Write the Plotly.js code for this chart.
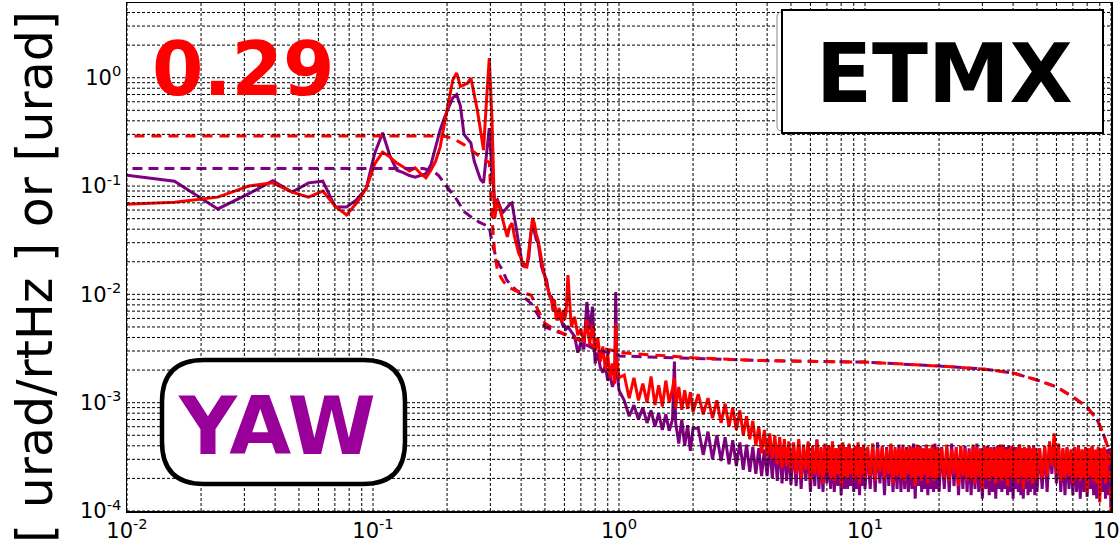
<!DOCTYPE html>
<html><head><meta charset="utf-8">
<script src="https://cdn.plot.ly/plotly-3.0.1.min.js"></script>
<style>body{margin:0;background:#fff}#chart{width:1120px;height:548px}</style>
</head><body><div id="chart"></div>
<script>
// ---- low-frequency bins (k/128 Hz) ----
const freqLow = [0.0078,0.0156,0.0234,0.0313,0.0391,0.0469,0.0547,0.0625,0.0703,0.0781,
0.0859,0.0938,0.1016,0.1094,0.1172,0.125,0.1328,0.1406,0.1484,0.1563,
0.1641,0.1719,0.1797,0.1875,0.1953,0.2031,0.2109,0.2188,0.2266,0.2344,
0.2422,0.25,0.2578,0.2656,0.2734,0.2813,0.2891,0.2969,0.3047,0.3125,
0.3203,0.3281,0.3359,0.3438,0.3516,0.3594,0.3672,0.375,0.3828,0.3906,
0.3984,0.4063,0.4141,0.4219,0.4297,0.4375,0.4453,0.4531,0.4609,0.4688,
0.4766,0.4844,0.4922,0.5,0.5078,0.5156,0.5234,0.5313,0.5391,0.5469,
0.5547,0.5625,0.5703,0.5781,0.5859,0.5938,0.6016,0.6094];
const purpleLow = [0.135,0.111,0.0615,0.085,0.112,0.088,0.107,0.111,0.064,0.064,
0.075,0.095,0.2,0.31,0.19,0.14,0.133,0.125,0.121,0.125,
0.13,0.157,0.23,0.33,0.43,0.54,0.65,0.7,0.55,0.3,
0.27,0.25,0.17,0.14,0.115,0.107,0.2,0.343,0.133,0.07,
0.0745,0.065,0.0565,0.06,0.064,0.068,0.07,0.05,0.04,0.03,
0.024,0.018,0.019,0.0185,0.022,0.035,0.045,0.038,0.032,0.03,
0.022,0.018,0.016,0.0145,0.0136,0.011,0.0098,0.0095,0.0085,0.0078,
0.007,0.0062,0.0058,0.0062,0.0055,0.005,0.0052,0.0048];
const redLow = [0.066,0.071,0.079,0.1,0.107,0.088,0.079,0.09,0.065,0.054,
0.07,0.095,0.16,0.206,0.185,0.163,0.15,0.138,0.147,0.13,
0.119,0.14,0.17,0.23,0.38,0.6,0.95,1.107,0.83,0.86,
0.89,0.995,0.72,0.5,0.33,0.215,0.6,1.52,0.4,0.05,
0.0745,0.06,0.0487,0.04,0.034,0.042,0.0456,0.035,0.028,0.0241,
0.022,0.019,0.018,0.0179,0.025,0.038,0.0507,0.045,0.036,0.0318,
0.025,0.02,0.017,0.0145,0.012,0.011,0.0095,0.0089,0.007,0.0089,
0.006,0.0058,0.0075,0.0065,0.0055,0.0072,0.0058,0.0068];

// ---- 0.6 - 5 Hz ----
const freqMid = [0.62,0.64,0.66,0.68,0.70,0.72,0.74,0.76,0.78,0.80,0.82,0.84,0.86,0.88,0.90,0.92,0.94,0.96,0.97,0.98,1.00,
1.05,1.10,1.15,1.20,1.25,1.30,1.35,1.40,1.45,1.50,1.55,1.60,1.65,1.68,1.70,1.75,1.80,1.85,1.90,1.95,2.00,
2.1,2.2,2.3,2.4,2.5,2.6,2.7,2.8,2.9,3.0,3.1,3.2,3.3,3.4,3.5,3.6,3.7,3.8,3.9,4.0,4.1,4.2,4.3,4.4,4.5,4.6,4.7,4.8,4.9,5.0];
const redMid = [0.0151,0.005,0.0062,0.0042,0.0048,0.0036,0.0058,0.0035,0.0052,0.0030,0.0040,0.0024,0.0033,0.0020,0.0028,0.0017,0.0023,0.0015,0.0054,0.0025,0.0017,
1.8e-3,1.1e-3,1.7e-3,1.05e-3,1.5e-3,1.0e-3,1.75e-3,9.5e-4,1.45e-3,9.2e-4,1.6e-3,1.0e-3,1.35e-3,1.7e-3,9.0e-4,1.4e-3,8.6e-4,1.3e-3,8.8e-4,1.25e-3,8.2e-4,
1.2e-3,7.8e-4,1.1e-3,7.2e-4,1.05e-3,6.5e-4,9.8e-4,6.0e-4,9.0e-4,5.6e-4,8.5e-4,5.0e-4,7.5e-4,4.6e-4,6.8e-4,4.0e-4,6.0e-4,3.4e-4,5.6e-4,3.2e-4,5.2e-4,3.0e-4,5.0e-4,2.7e-4,4.8e-4,2.5e-4,4.6e-4,2.6e-4,4.4e-4,2.35e-4];
const purpleMid = [0.005,0.0045,0.0041,0.0029,0.0036,0.0031,0.0085,0.0047,0.0077,0.0023,0.0029,0.0021,0.0019,0.0022,0.0016,0.0018,0.0014,0.0016,0.0105,0.0020,0.0013,
1.05e-3,7.5e-4,9.5e-4,7.0e-4,9.0e-4,6.5e-4,8.5e-4,6.0e-4,8.0e-4,5.6e-4,7.8e-4,5.5e-4,7.0e-4,2.4e-3,6.5e-4,4.2e-4,7.0e-4,4.0e-4,6.2e-4,3.6e-4,5.8e-4,
5.8e-4,3.3e-4,5.4e-4,3.0e-4,5.0e-4,2.9e-4,4.8e-4,2.7e-4,4.5e-4,2.6e-4,4.3e-4,2.4e-4,4.1e-4,2.3e-4,3.9e-4,2.2e-4,3.8e-4,2.1e-4,3.7e-4,2.1e-4,4.0e-4,2.0e-4,4.2e-4,1.9e-4,4.3e-4,1.8e-4,4.2e-4,1.9e-4,4.1e-4,1.75e-4];

// ---- 5 - 100 Hz (noise floor) ----
const freqTail = [5.125,5.25,5.375,5.5,5.625,5.75,5.875,6,6.125,6.25,6.375,6.5,6.625,6.75,6.875,7,7.125,7.25,7.375,7.5,
7.625,7.75,7.875,8,8.125,8.25,8.375,8.5,8.625,8.75,8.875,9,9.125,9.25,9.375,9.5,9.625,9.75,9.875,10,
10.25,10.5,10.75,11,11.25,11.5,11.75,12,12.25,12.5,12.75,13,13.25,13.5,13.75,14,14.25,14.5,14.75,15,
15.25,15.5,15.75,16,16.25,16.5,16.75,17,17.25,17.5,17.75,18,18.25,18.5,18.75,19,19.25,19.5,19.75,20,
20.5,21,21.5,22,22.5,23,23.5,24,24.5,25,25.5,26,26.5,27,27.5,28,28.5,29,29.5,30,
30.5,31,31.5,32,32.5,33,33.5,34,34.5,35,35.5,36,36.5,37,37.5,38,38.5,39,39.5,40,
40.5,41,41.5,42,42.5,43,43.5,44,44.5,45,45.5,46,46.5,47,47.5,48,48.5,49,49.5,50,
51.25,52.5,53.75,55,56.25,57.5,58.75,60,61.25,62.5,63.75,65,66.25,67.5,68.75,70,71.25,72.5,73.75,75,
76.25,77.5,78.75,80,81.25,82.5,83.75,85,86.25,87.5,88.75,90,91.25,92.5,93.75,95,96.25,97.5,98.75,100];
const redTail = [4.3e-4,2.2e-4,4.6e-4,2.0e-4,4.1e-4,2.4e-4,4.4e-4,1.9e-4,4.0e-4,2.2e-4,4.5e-4,2.1e-4,3.9e-4,1.8e-4,4.2e-4,2.3e-4,4.0e-4,2.0e-4,4.4e-4,1.9e-4,
3.8e-4,2.2e-4,4.1e-4,1.7e-4,4.3e-4,2.1e-4,3.9e-4,2.0e-4,4.2e-4,2.2e-4,3.8e-4,1.9e-4,4.0e-4,2.1e-4,4.3e-4,1.8e-4,3.9e-4,2.2e-4,4.1e-4,2.0e-4,
3.9e-4,2.1e-4,4.2e-4,1.9e-4,3.8e-4,2.3e-4,4.0e-4,2.0e-4,3.7e-4,2.2e-4,4.2e-4,1.8e-4,3.9e-4,2.1e-4,3.8e-4,2.0e-4,4.1e-4,1.9e-4,3.7e-4,2.2e-4,
4.0e-4,2.0e-4,3.8e-4,1.7e-4,4.1e-4,2.1e-4,3.9e-4,1.9e-4,3.7e-4,2.2e-4,4.0e-4,1.8e-4,3.8e-4,2.1e-4,4.1e-4,1.9e-4,3.7e-4,2.0e-4,3.9e-4,2.1e-4,
3.8e-4,2.0e-4,4.1e-4,1.9e-4,3.7e-4,2.2e-4,3.9e-4,1.7e-4,4.0e-4,2.1e-4,3.8e-4,1.9e-4,3.6e-4,2.0e-4,4.1e-4,1.8e-4,3.9e-4,2.1e-4,3.7e-4,1.6e-4,
4.0e-4,2.0e-4,3.8e-4,1.9e-4,3.9e-4,2.1e-4,3.7e-4,1.8e-4,4.0e-4,2.0e-4,3.9e-4,1.9e-4,4.1e-4,2.0e-4,3.7e-4,1.7e-4,3.8e-4,2.1e-4,4.0e-4,1.9e-4,
3.6e-4,2.0e-4,3.9e-4,1.8e-4,4.1e-4,2.1e-4,3.8e-4,1.6e-4,3.9e-4,2.0e-4,3.7e-4,1.9e-4,4.0e-4,2.1e-4,3.8e-4,1.8e-4,3.9e-4,2.0e-4,3.7e-4,1.9e-4,
3.8e-4,2.0e-4,4.0e-4,2.1e-4,4.4e-4,2.6e-4,5.2e-4,2.2e-4,4.2e-4,1.9e-4,3.8e-4,2.0e-4,3.9e-4,2.1e-4,3.7e-4,1.8e-4,3.9e-4,2.0e-4,4.0e-4,1.9e-4,
3.7e-4,2.0e-4,3.9e-4,1.5e-4,3.8e-4,2.1e-4,4.0e-4,1.9e-4,3.7e-4,1.8e-4,3.9e-4,1.2e-4,3.8e-4,2.0e-4,3.9e-4,1.8e-4,3.7e-4,2.0e-4,3.8e-4,2.1e-4];
const purpleTail = [4.1e-4,1.7e-4,4.5e-4,1.6e-4,3.9e-4,1.9e-4,4.2e-4,1.5e-4,3.8e-4,1.7e-4,4.6e-4,1.6e-4,3.8e-4,1.5e-4,4.0e-4,1.8e-4,3.9e-4,1.6e-4,4.2e-4,1.5e-4,
3.7e-4,1.7e-4,4.0e-4,1.4e-4,4.1e-4,1.6e-4,3.8e-4,1.6e-4,4.0e-4,1.7e-4,3.7e-4,1.5e-4,3.9e-4,1.6e-4,4.1e-4,1.4e-4,3.8e-4,1.7e-4,3.9e-4,1.6e-4,
3.8e-4,1.6e-4,4.0e-4,1.5e-4,4.3e-4,1.8e-4,3.8e-4,1.4e-4,3.9e-4,1.7e-4,4.0e-4,1.5e-4,3.7e-4,1.6e-4,4.1e-4,1.5e-4,3.8e-4,1.6e-4,3.9e-4,1.5e-4,
3.9e-4,1.6e-4,4.2e-4,1.3e-4,3.8e-4,1.7e-4,4.0e-4,1.5e-4,3.8e-4,1.6e-4,4.1e-4,1.4e-4,3.7e-4,1.6e-4,3.9e-4,1.5e-4,4.2e-4,1.6e-4,3.8e-4,1.5e-4,
3.9e-4,1.6e-4,3.8e-4,1.5e-4,4.2e-4,1.7e-4,3.7e-4,1.4e-4,3.9e-4,1.6e-4,4.0e-4,1.5e-4,3.8e-4,1.4e-4,3.9e-4,1.6e-4,4.2e-4,1.5e-4,3.8e-4,1.3e-4,
3.9e-4,1.6e-4,4.0e-4,1.4e-4,3.8e-4,1.5e-4,3.9e-4,1.3e-4,3.7e-4,1.6e-4,4.1e-4,1.5e-4,3.8e-4,1.6e-4,3.9e-4,1.4e-4,4.0e-4,1.5e-4,3.8e-4,1.3e-4,
3.9e-4,1.6e-4,3.7e-4,1.5e-4,4.1e-4,1.4e-4,3.8e-4,1.3e-4,3.9e-4,1.6e-4,3.8e-4,1.4e-4,3.9e-4,1.5e-4,3.7e-4,1.6e-4,4.0e-4,1.4e-4,3.8e-4,1.5e-4,
3.7e-4,1.6e-4,3.9e-4,1.5e-4,4.1e-4,2.2e-4,4.6e-4,1.8e-4,3.9e-4,1.5e-4,3.7e-4,1.4e-4,3.8e-4,1.6e-4,3.6e-4,1.4e-4,3.8e-4,1.5e-4,3.9e-4,1.3e-4,
3.6e-4,1.5e-4,3.8e-4,1.35e-4,3.7e-4,1.6e-4,3.9e-4,1.4e-4,3.6e-4,1.3e-4,3.8e-4,1.4e-4,3.7e-4,1.5e-4,3.8e-4,1.3e-4,3.6e-4,1.4e-4,3.7e-4,1.6e-4];

// ---- cumulative RMS (dashed) ----
const freqRmsRed = [0.0078,0.1,0.18,0.19,0.2,0.215,0.235,0.25,0.265,0.28,0.2969,0.3047,0.3125,0.32,0.33,0.34,0.36,0.38,0.40,0.42,0.44,0.46,0.48,0.5,0.55,0.6,0.65,0.7,0.8,0.9,0.97,1.0,1.5,2,3.7,6.7,10,20,30,40,50,60,70,80,88,93,97,99,100];
const rmsRed = [0.29,0.29,0.29,0.29,0.285,0.27,0.24,0.215,0.195,0.178,0.165,0.05,0.024,0.017,0.0145,0.013,0.0115,0.0108,0.0105,0.0102,0.0098,0.0078,0.0064,0.0054,0.0047,0.0043,0.004,0.0038,0.0033,0.0031,0.003,0.0029,0.0027,0.0026,0.00245,0.0024,0.00237,0.00218,0.00205,0.00188,0.00162,0.0014,0.00113,0.00091,0.00069,0.00052,0.00039,0.00025,0.0001];
const freqRmsPurple = [0.0078,0.16,0.175,0.185,0.2,0.215,0.235,0.25,0.27,0.29,0.2969,0.3047,0.3125,0.32,0.335,0.35,0.37,0.39,0.42,0.44,0.46,0.48,0.5,0.55,0.6,0.65,0.7,0.74,0.8,0.9,0.97,1.0,1.3,1.66,1.7,2,3.7,6.7,10,20,30,40,50,60,70,80,88,93,97,99,100];
const rmsPurple = [0.145,0.145,0.138,0.125,0.098,0.08,0.058,0.052,0.0465,0.0435,0.042,0.03,0.024,0.02,0.017,0.0135,0.0117,0.0105,0.0092,0.0082,0.0069,0.0058,0.005,0.0046,0.0043,0.004,0.0037,0.0034,0.0031,0.0029,0.0028,0.0027,0.00265,0.0026,0.0026,0.0026,0.00245,0.0024,0.00237,0.00218,0.00205,0.00188,0.00162,0.0014,0.00113,0.00091,0.00069,0.00052,0.00039,0.00025,0.0001];

// ---- ticks / grid ----
const xMajor = [0.01,0.1,1,10,100];
const xMajorText = ['10<sup>-2</sup>','10<sup>-1</sup>','10<sup>0</sup>','10<sup>1</sup>','10<sup>2</sup>'];
const yMajor = [1e-4,1e-3,1e-2,1e-1,1];
const yMajorText = ['10<sup>-4</sup>','10<sup>-3</sup>','10<sup>-2</sup>','10<sup>-1</sup>','10<sup>0</sup>'];
const xGrid = [0.01,0.02,0.03,0.04,0.05,0.06,0.07,0.08,0.09,0.1,0.2,0.3,0.4,0.5,0.6,0.7,0.8,0.9,1,2,3,4,5,6,7,8,9,10,20,30,40,50,60,70,80,90,100];
const yGrid = [1e-4,2e-4,3e-4,4e-4,5e-4,6e-4,7e-4,8e-4,9e-4,1e-3,2e-3,3e-3,4e-3,5e-3,6e-3,7e-3,8e-3,9e-3,1e-2,2e-2,3e-2,4e-2,5e-2,6e-2,7e-2,8e-2,9e-2,0.1,0.2,0.3,0.4,0.5,0.6,0.7,0.8,0.9,1,2,3,4];
const xLimits = [0.01, 100];
const yLimits = [1e-4, 4.9];

const RED = '#ff0000', PURPLE = '#800080';

const hx = [], hy = [], vx = [], vy = [];
yGrid.forEach(v => { hx.push(xLimits[0], xLimits[1], null); hy.push(v, v, null); });
xGrid.forEach(v => { vx.push(v, v, null); vy.push(yLimits[0], yLimits[1], null); });

const freqAll = freqLow.concat(freqMid, freqTail);
const gridLine = {color:'#000', width:1, dash:'3px,2px'};
const traces = [
  {x: freqAll, y: purpleLow.concat(purpleMid, purpleTail), mode:'lines', line:{color:PURPLE, width:3}, hoverinfo:'skip'},
  {x: freqAll, y: redLow.concat(redMid, redTail), mode:'lines', line:{color:RED, width:3}, hoverinfo:'skip'},
  {x: freqRmsPurple, y: rmsPurple, mode:'lines', line:{color:PURPLE, width:3, dash:'10px,6px'}, hoverinfo:'skip'},
  {x: freqRmsRed, y: rmsRed, mode:'lines', line:{color:RED, width:3, dash:'10px,7px'}, hoverinfo:'skip'},
  {x: hx, y: hy, mode:'lines', line:gridLine, hoverinfo:'skip', connectgaps:false},
  {x: vx, y: vy, mode:'lines', line:gridLine, hoverinfo:'skip', connectgaps:false}
];

const W = 1120, H = 548, M = {l:127, r:9, t:3, b:37};
const pw = W - M.l - M.r, ph = H - M.t - M.b;
const px = x => (x - M.l) / pw;
const py = y => (H - M.b - y) / ph;
function roundRect(x0, y0, x1, y1, r) {
  const P = (x, y) => px(x).toFixed(5) + ',' + py(y).toFixed(5);
  return 'M' + P(x0 + r, y0) + ' L' + P(x1 - r, y0) + ' Q' + P(x1, y0) + ' ' + P(x1, y0 + r) +
    ' L' + P(x1, y1 - r) + ' Q' + P(x1, y1) + ' ' + P(x1 - r, y1) +
    ' L' + P(x0 + r, y1) + ' Q' + P(x0, y1) + ' ' + P(x0, y1 - r) +
    ' L' + P(x0, y0 + r) + ' Q' + P(x0, y0) + ' ' + P(x0 + r, y0) + ' Z';
}

const FONT = 'DejaVu Sans, Verdana, sans-serif';
const layout = {
  width: W, height: H, margin: M, showlegend: false,
  paper_bgcolor: '#fff', plot_bgcolor: '#fff',
  xaxis: {type:'log', range:[-2, 2], tickvals:xMajor, ticktext:xMajorText, showgrid:false, zeroline:false,
    ticklabeloverflow:'allow',
    showline:true, mirror:true, linecolor:'#000', linewidth:1.5, ticks:'', tickfont:{family:FONT, size:21, color:'#000'}},
  yaxis: {type:'log', range:[-4, 0.69], tickvals:yMajor, ticktext:yMajorText, showgrid:false, zeroline:false,
    showline:true, mirror:true, linecolor:'#000', linewidth:1.5, ticks:'', tickfont:{family:FONT, size:21, color:'#000'}},
  shapes: [
    {type:'path', xref:'paper', yref:'paper', layer:'above', path: roundRect(777, 12, 1100, 131, 5), line:{color:'#888', width:1}, fillcolor:'#fff'},
    {type:'rect', xref:'paper', yref:'paper', layer:'above', x0:px(782), x1:px(1103), y0:py(133), y1:py(10), line:{color:'#000', width:2}, fillcolor:'#fff'},
    {type:'path', xref:'paper', yref:'paper', layer:'above', path: roundRect(162, 360, 405, 484, 42), line:{color:'#000', width:4.5}, fillcolor:'#fff'}
  ],
  annotations: [
    {xref:'paper', yref:'paper', x:px(36), y:py(277), text:'[ urad/rtHz ] or [urad]', textangle:-90, showarrow:false,
      xanchor:'center', yanchor:'middle', font:{family:FONT, size:49, color:'#000'}},
    {xref:'paper', yref:'paper', x:px(243), y:py(69), text:'0.29', showarrow:false, xanchor:'center', yanchor:'middle',
      font:{family:FONT, size:74, color:RED, weight:'bold'}},
    {xref:'paper', yref:'paper', x:px(944), y:py(74), text:'ETMX', showarrow:false, xanchor:'center', yanchor:'middle',
      font:{family:FONT, size:82, color:'#000', weight:'bold'}},
    {xref:'paper', yref:'paper', x:px(277), y:py(426), text:'YAW', showarrow:false, xanchor:'center', yanchor:'middle',
      font:{family:FONT, size:80, color:'#990099', weight:'bold'}}
  ]
};
Plotly.newPlot('chart', traces, layout, {staticPlot:true});
</script></body></html>
